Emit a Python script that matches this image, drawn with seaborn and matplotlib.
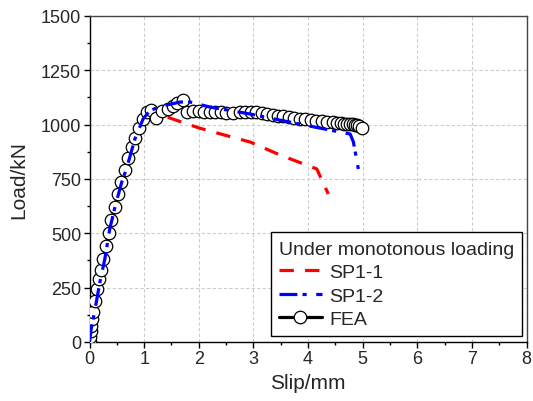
import matplotlib
matplotlib.use("Agg")
import matplotlib.pyplot as plt
import seaborn as sns
import pandas as pd
from matplotlib.ticker import MultipleLocator

sns.set_theme(style="ticks")
plt.rcParams['font.family'] = ['Liberation Sans', 'DejaVu Sans']

# SP1-1 (test, red dashed)
sp11_slip = [0, 0.05, 0.1, 0.2, 0.3, 0.4, 0.5, 0.6, 0.7, 0.8, 0.9, 1.0, 1.15, 1.3,
             2.0, 2.5, 2.94, 3.49, 4.16, 4.37]
sp11_load = [0, 80, 160, 280, 420, 540, 640, 730, 810, 880, 950, 1010, 1055, 1045,
             985, 950, 920, 860, 796, 681]

# SP1-2 (test, blue dash-dot)
sp12_slip = [0, 0.03, 0.1, 0.19, 0.28, 0.37, 0.47, 0.59, 0.68, 0.83, 0.98, 1.1, 1.3,
             1.5, 1.66, 1.84, 2.2, 2.6, 2.94, 3.5, 4.0, 4.4, 4.77, 4.83, 4.92]
sp12_load = [0, 60, 150, 276, 382, 520, 626, 736, 800, 934, 1026, 1063, 1085,
             1095, 1104, 1104, 1081, 1064, 1049, 1020, 995, 975, 957, 920, 796]

# FEA (black line with open circles)
fea_slip = [0, 0.01, 0.02, 0.03, 0.05, 0.07, 0.1, 0.13, 0.17, 0.21, 0.25, 0.3, 0.35,
            0.4, 0.46, 0.52, 0.58, 0.64, 0.7, 0.77, 0.84, 0.91, 0.98, 1.06, 1.13,
            1.22, 1.33, 1.44, 1.53, 1.6, 1.71, 1.79, 1.9, 2.0, 2.1, 2.2, 2.3, 2.4,
            2.5, 2.62, 2.75, 2.85, 2.95, 3.05, 3.15, 3.25, 3.35, 3.45, 3.55, 3.65,
            3.75, 3.85, 3.95, 4.05, 4.15, 4.25, 4.35, 4.45, 4.53, 4.6, 4.66, 4.72,
            4.77, 4.82, 4.86, 4.9, 4.94, 4.99]
fea_load = [0, 25, 50, 75, 105, 140, 190, 245, 290, 330, 380, 440, 500,
            560, 620, 680, 735, 790, 845, 895, 940, 985, 1025, 1060, 1068,
            1031, 1063, 1072, 1086, 1098, 1114, 1058, 1063, 1062, 1060, 1058, 1058, 1056,
            1055, 1052, 1057, 1058, 1057, 1056, 1053, 1050, 1046, 1042, 1038, 1034,
            1030, 1027, 1024, 1021, 1018, 1015, 1012, 1010, 1008, 1006, 1004, 1003,
            1002, 1001, 1000, 998, 995, 985]

fig = plt.figure(figsize=(5.33, 4.02), dpi=100)
ax = fig.add_axes([0.168, 0.1468, 0.820, 0.811])

sns.lineplot(x=sp11_slip, y=sp11_load, sort=False, ax=ax, color="#ff0000",
             linestyle=(0, (4.5, 3.5)), linewidth=2.3, label="SP1-1", zorder=2)
sns.lineplot(x=fea_slip, y=fea_load, sort=False, ax=ax, color="black",
             linewidth=2.3, marker="o", markersize=9, markerfacecolor="white",
             markeredgecolor="black", markeredgewidth=0.9, label="FEA", zorder=3)
sns.lineplot(x=sp12_slip, y=sp12_load, sort=False, ax=ax, color="#0000ff",
             linestyle=(0, (5.6, 1.6, 1.3, 3.0)), linewidth=2.3, label="SP1-2", zorder=4)

ax.set_xlim(0, 8)
ax.set_ylim(0, 1500)
ax.xaxis.set_major_locator(MultipleLocator(1))
ax.xaxis.set_minor_locator(MultipleLocator(0.5))
ax.yaxis.set_major_locator(MultipleLocator(250))
ax.yaxis.set_minor_locator(MultipleLocator(125))
ax.tick_params(which="major", direction="out", length=4, width=1, labelsize=13, color="black", pad=2)
ax.tick_params(which="minor", direction="out", length=2.5, width=1, color="black")
ax.grid(True, which="major", color="#cccccc", linestyle=(0, (3, 2)), linewidth=0.8)
ax.set_axisbelow(True)
for s in ax.spines.values():
    s.set_color("black")
    s.set_linewidth(1.0)
ax.spines["top"].set_color("#444444")
ax.spines["right"].set_color("#444444")

ax.set_xlabel("Slip/mm", fontsize=15, labelpad=4)
ax.set_ylabel("Load/kN", fontsize=15, labelpad=9)

handles, labels = ax.get_legend_handles_labels()
order = [labels.index(n) for n in ["SP1-1", "SP1-2", "FEA"]]
leg = ax.legend([handles[i] for i in order], [labels[i] for i in order],
                title="Under monotonous loading", loc="lower right",
                bbox_to_anchor=(0.99, 0.018), fontsize=14, title_fontsize=14,
                frameon=True, fancybox=False, edgecolor="black", framealpha=1,
                handlelength=2.2, handletextpad=0.4, borderpad=0.42,
                labelspacing=0.3, borderaxespad=0)
leg.get_frame().set_linewidth(1.0)
leg._legend_box.align = "left"

fig.savefig("out.png", dpi=100)
